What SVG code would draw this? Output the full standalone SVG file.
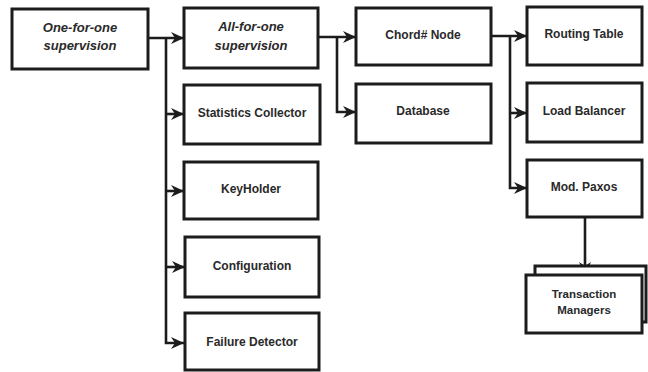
<svg xmlns="http://www.w3.org/2000/svg" width="648" height="372" viewBox="0 0 648 372">
<style>
  .box { fill: #fff; stroke: #1c1c1c; stroke-width: 3; }
  .lbl { font-family: "Liberation Sans", Arial, sans-serif; font-weight: bold; font-size: 12px; fill: #2a2a2a; text-anchor: middle; }
  .it { font-style: italic; font-size: 13px; }
  .sm { font-size: 11.5px; }
  .conn { fill: none; stroke: #1c1c1c; stroke-width: 2.6; }
</style>
<defs>
  <marker id="arr" markerUnits="userSpaceOnUse" markerWidth="14" markerHeight="14" viewBox="0 0 14 14" refX="13" refY="7" orient="auto">
    <path d="M0,1 L13,7 L0,13 L4,7 Z" fill="#1c1c1c"/>
  </marker>
</defs>
<rect width="648" height="372" fill="#fff"/>
<g id="connectors">
  <path class="conn" d="M148,38 H184" marker-end="url(#arr)"/>
  <path class="conn" d="M166,38 V343 H184" marker-end="url(#arr)"/>
  <path class="conn" d="M166,114 H184" marker-end="url(#arr)"/>
  <path class="conn" d="M166,191 H184" marker-end="url(#arr)"/>
  <path class="conn" d="M166,267 H185" marker-end="url(#arr)"/>
  <path class="conn" d="M318,37 H356" marker-end="url(#arr)"/>
  <path class="conn" d="M337,37 V112 H356" marker-end="url(#arr)"/>
  <path class="conn" d="M491,36 H527" marker-end="url(#arr)"/>
  <path class="conn" d="M510,36 V188 H527" marker-end="url(#arr)"/>
  <path class="conn" d="M510,113 H527" marker-end="url(#arr)"/>
  <path class="conn" d="M585,217 V275" marker-end="url(#arr)"/>
</g>
<g id="one-for-one">
  <rect class="box" x="12" y="9" width="136" height="60"/>
  <text class="lbl it" x="80" y="32">One-for-one</text>
  <text class="lbl it" x="80" y="50">supervision</text>
</g>
<g id="all-for-one">
  <rect class="box" x="184" y="8" width="134" height="60"/>
  <text class="lbl it" x="251" y="31">All-for-one</text>
  <text class="lbl it" x="251" y="50">supervision</text>
</g>
<g id="statistics-collector">
  <rect class="box" x="184" y="85" width="136" height="59"/>
  <text class="lbl" x="252" y="117">Statistics Collector</text>
</g>
<g id="keyholder">
  <rect class="box" x="184" y="162" width="134" height="57"/>
  <text class="lbl" x="251" y="193">KeyHolder</text>
</g>
<g id="configuration">
  <rect class="box" x="185" y="237" width="134" height="60"/>
  <text class="lbl" x="252" y="270">Configuration</text>
</g>
<g id="failure-detector">
  <rect class="box" x="185" y="313" width="134" height="57"/>
  <text class="lbl" x="252" y="346">Failure Detector</text>
</g>
<g id="chord-node">
  <rect class="box" x="356" y="8" width="135" height="57"/>
  <text class="lbl" x="423" y="39">Chord# Node</text>
</g>
<g id="database">
  <rect class="box" x="356" y="84" width="135" height="59"/>
  <text class="lbl" x="423" y="115">Database</text>
</g>
<g id="routing-table">
  <rect class="box" x="527" y="7" width="115" height="58"/>
  <text class="lbl" x="584" y="38">Routing Table</text>
</g>
<g id="load-balancer">
  <rect class="box" x="527" y="83" width="115" height="59"/>
  <text class="lbl" x="584" y="115">Load Balancer</text>
</g>
<g id="mod-paxos">
  <rect class="box" x="527" y="160" width="115" height="57"/>
  <text class="lbl" x="584" y="191">Mod. Paxos</text>
</g>
<g id="transaction-managers">
  <rect class="box" x="535" y="266" width="111" height="56"/>
  <rect class="box" x="526" y="275" width="116" height="58"/>
  <text class="lbl sm" x="584" y="298">Transaction</text>
  <text class="lbl sm" x="584" y="314">Managers</text>
</g>
</svg>
